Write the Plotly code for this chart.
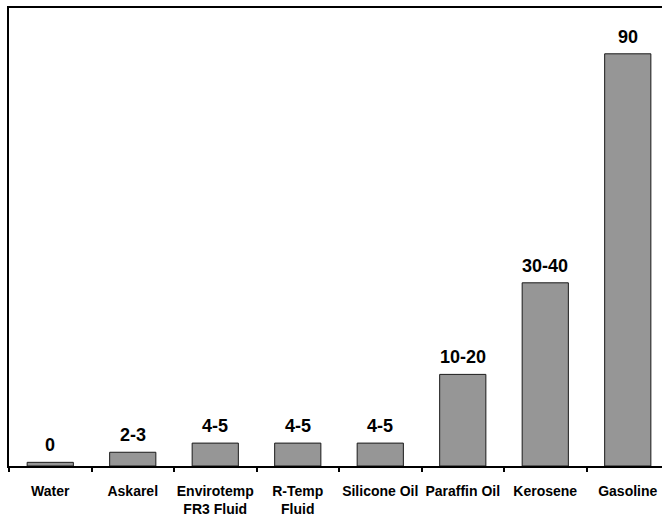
import plotly.graph_objects as go

categories = ["Water", "Askarel", "Envirotemp<br>FR3 Fluid", "R-Temp<br>Fluid",
              "Silicone Oil", "Paraffin Oil", "Kerosene", "Gasoline"]
values = [0.8, 3, 5, 5, 5, 20, 40, 90]
value_labels = ["0", "2-3", "4-5", "4-5", "4-5", "10-20", "30-40", "90"]

FONT = "Liberation Sans, Arial, sans-serif"

fig = go.Figure()
fig.add_trace(go.Bar(
    x=list(range(len(categories))),
    y=values,
    width=0.56,
    marker=dict(color="#969696", line=dict(color="#1a1a1a", width=1)),
    hoverinfo="skip",
))

for i, (v, lab) in enumerate(zip(values, value_labels)):
    fig.add_annotation(
        x=i, y=v, text=lab, showarrow=False,
        yanchor="bottom", xanchor="center", yshift=5,
        font=dict(family=FONT, size=18, color="black", weight="bold"),
    )

fig.update_layout(
    width=662, height=517,
    margin=dict(l=9, r=0, t=8, b=48),
    paper_bgcolor="white", plot_bgcolor="white",
    showlegend=False,
    font=dict(family=FONT, color="black"),
)
fig.update_xaxes(
    tickmode="array",
    tickvals=list(range(len(categories))),
    ticktext=categories,
    range=[-0.5, 7.415],
    showline=True, linecolor="black", linewidth=2, mirror=True,
    ticks="", showgrid=False, zeroline=False,
    tickfont=dict(family=FONT, size=14, color="black", weight="bold"),
    ticklabelstandoff=11,
)
# boundary ticks between categories
fig.add_trace(go.Scatter(x=[None], y=[None], showlegend=False))
fig.update_layout(
    xaxis2=dict(
        overlaying="x", matches="x", side="bottom",
        tickmode="array",
        tickvals=[i - 0.5 for i in range(len(categories) + 1)],
        ticktext=["" for _ in range(len(categories) + 1)],
        ticks="outside", ticklen=5, tickwidth=1.5, tickcolor="black",
        showgrid=False, zeroline=False, showline=False,
    )
)
fig.data[1].update(xaxis="x2")
fig.update_yaxes(
    range=[0, 100],
    showline=True, linecolor="black", linewidth=2,
    showticklabels=False, ticks="", showgrid=False, zeroline=False,
)

fig.write_html(
    "out.html",
    config={"displayModeBar": False},
    post_script="document.body.style.margin='0';document.body.style.overflow='hidden';",
)
